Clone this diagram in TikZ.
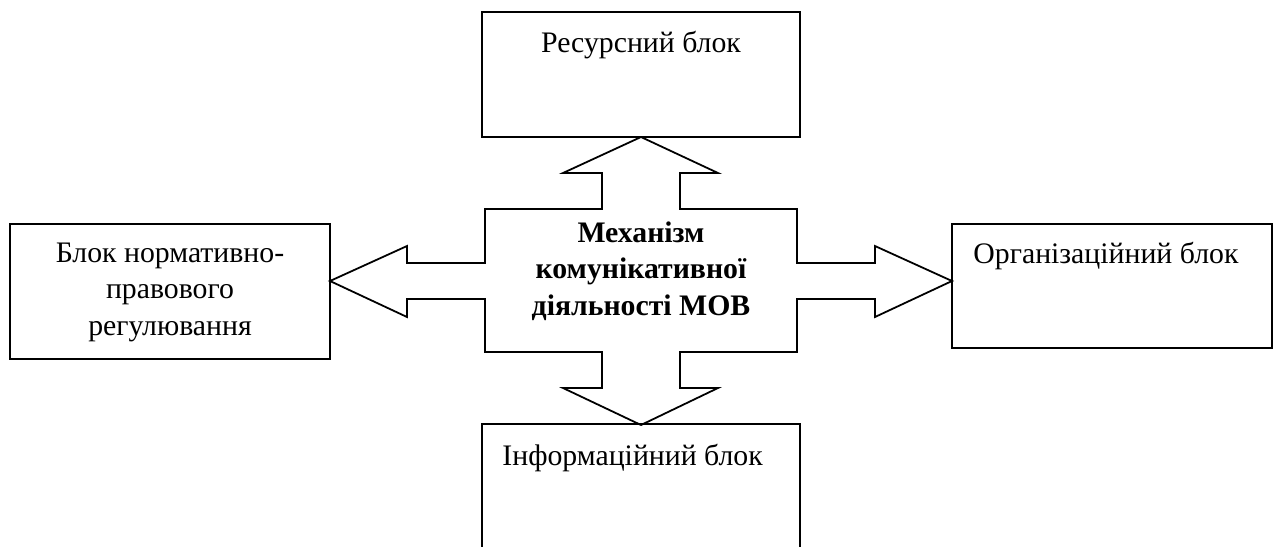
\documentclass[tikz,border=0pt]{standalone}
\usepackage{fontspec}
\setmainfont{Liberation Serif}
\usepackage{tikz}
\usetikzlibrary{positioning}

\begin{document}
\begin{tikzpicture}[x=0.45pt,y=-0.45pt,
		blok/.style={draw,line width=0.8pt,inner sep=0pt},
		napys/.style={font=\fontsize{13.4}{16.4}\selectfont,align=center,inner sep=0pt}]
				\useasboundingbox (0,0) rectangle (1279,547);
				\clip (0,0) rectangle (1279,547);
				\node[blok,minimum width=143.1pt,minimum height=56.25pt] (resurs) at (641,74.5) {};
				\node[blok,minimum width=144pt,minimum height=60.75pt] (norm) at (170,291.5) {};
				\node[blok,minimum width=144pt,minimum height=55.8pt] (org) at (1112,286) {};
				\node[blok,minimum width=143.1pt,minimum height=79.2pt] (inform) at (641,512) {};
				\draw[line width=0.8pt,line join=miter] (641,137) -- (718,173) -- (680,173) -- (680,209) -- (797,209) -- (797,263) -- (875,263) -- (875,246) -- (952,281) -- (875,317) -- (875,299) -- (797,299) -- (797,352) -- (680,352) -- (680,388) -- (718,388) -- (641,425) -- (563,388) -- (602,388) -- (602,352) -- (485,352) -- (485,299) -- (407,299) -- (407,317) -- (330,281) -- (407,246) -- (407,263) -- (485,263) -- (485,209) -- (602,209) -- (602,173) -- (563,173) -- cycle;
				\node[napys,anchor=base] (resurs-t) at (641,52) {Ресурсний блок};
				\node[napys,anchor=base] (norm-t) at (170,335) {Блок нормативно-\\правового\\регулювання};
				\node[napys,anchor=base west] (org-t) at (973,263) {Організаційний блок};
				\node[napys,anchor=base west] (inform-t) at (502,465) {Інформаційний блок};
				\node[napys,anchor=base,font=\fontsize{13.4}{16.4}\selectfont\bfseries] (mekh) at (641,315) {Механізм\\комунікативної\\діяльності МОВ};
\end{tikzpicture}
\end{document}
